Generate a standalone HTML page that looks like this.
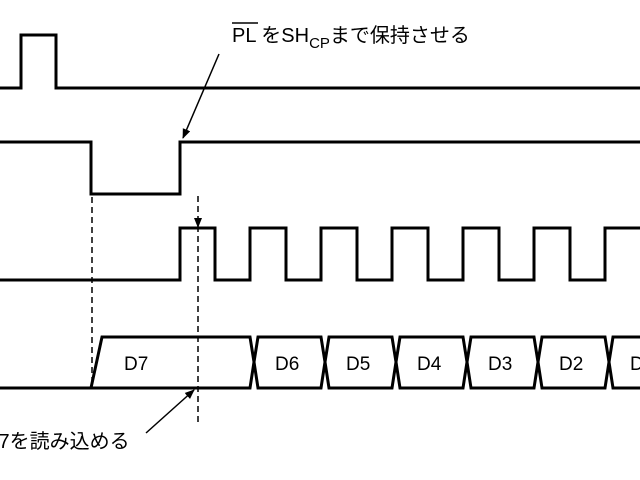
<!DOCTYPE html>
<html><head><meta charset="utf-8"><style>
html,body{margin:0;padding:0;background:#fff;width:640px;height:480px;overflow:hidden}
</style></head><body>
<svg width="640" height="480" xmlns="http://www.w3.org/2000/svg" font-family="Liberation Sans, Noto Sans CJK JP, sans-serif">
<defs><marker id="a" markerWidth="10" markerHeight="10" refX="9" refY="5" orient="auto" markerUnits="userSpaceOnUse"><path d="M0,1 L10,5 L0,9 z" fill="#000"/></marker></defs>
<g fill="none" stroke="#000" stroke-width="3">
<polyline points="0,88 21,88 21,35 56,35 56,88 640,88"/>
<polyline points="0,142 91,142 91,194 180,194 180,142 640,142"/>
<polyline points="0,280 180,280 180,228 215,228 215,280 250,280 250,228 286,228 286,280 321,280 321,228 357,228 357,280 392,280 392,228 428,228 428,280 463,280 463,228 499,228 499,280 534,280 534,228 570,228 570,280 605,280 605,228 640,228"/>
<polyline points="0,388 91,388 102,337 250,337 254,362 250,388 91,388"/>
<path d="M254,362 L258,337 L321,337 L325,362 L321,388 L258,388 Z"/>
<path d="M325,362 L329,337 L392,337 L396,362 L392,388 L329,388 Z"/>
<path d="M396,362 L400,337 L463,337 L467,362 L463,388 L400,388 Z"/>
<path d="M467,362 L471,337 L534,337 L538,362 L534,388 L471,388 Z"/>
<path d="M538,362 L542,337 L605,337 L609,362 L605,388 L542,388 Z"/>
<path d="M645,337 L613,337 L609,362 L613,388 L645,388"/>
</g>
<g stroke="#000" stroke-width="1.5" stroke-dasharray="6,4">
<line x1="92" y1="197" x2="92" y2="388"/>
<line x1="198" y1="196" x2="198" y2="425"/>
</g>
<path d="M194,218 L202,218 L198,228 Z" fill="#000"/>
<g stroke="#000" stroke-width="1.5">
<line x1="219" y1="54" x2="183" y2="138" marker-end="url(#a)"/>
<line x1="146" y1="433" x2="194" y2="390" marker-end="url(#a)"/>
</g>
<g font-size="20" fill="#000">
<text x="232" y="42">PL をSH<tspan font-size="15" dy="6">CP</tspan><tspan dy="-6">まで保持させる</tspan></text>
<line x1="232" y1="23" x2="258" y2="23" stroke="#000" stroke-width="1.5"/>
<text x="-16" y="448">D7を読み込める</text>
</g>
<g font-size="19" fill="#000">
<text x="124" y="370">D7</text>
<text x="275" y="370">D6</text>
<text x="346" y="370">D5</text>
<text x="417" y="370">D4</text>
<text x="488" y="370">D3</text>
<text x="559" y="370">D2</text>
<text x="630" y="370">D1</text>
</g>
</svg>
</body></html>
